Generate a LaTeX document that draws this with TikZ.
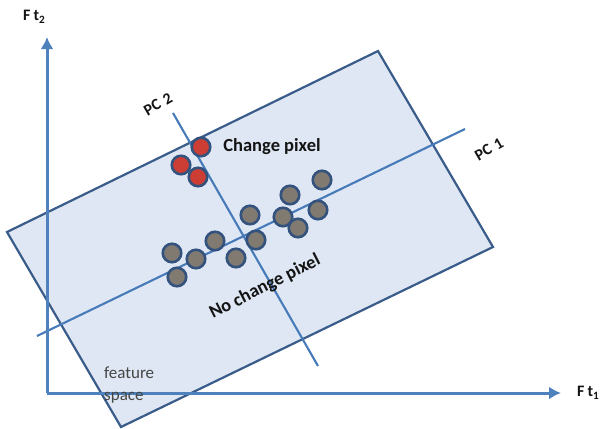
\documentclass[tikz,border=0pt]{standalone}
\usepackage{fontspec}
\setmainfont{Carlito}
\usetikzlibrary{arrows.meta}
\definecolor{rectfill}{RGB}{222,231,243}
\definecolor{rectline}{RGB}{58,92,138}
\definecolor{pcline}{RGB}{70,122,184}
\definecolor{axisblue}{RGB}{79,129,189}
\definecolor{dotred}{RGB}{204,62,52}
\definecolor{dotgray}{RGB}{128,122,112}
\definecolor{dotline}{RGB}{52,82,126}
\definecolor{txt}{RGB}{20,20,20}
\definecolor{graytxt}{RGB}{70,70,70}
\tikzset{
  rectstyle/.style={fill=rectfill, draw=rectline, line width=2.2pt, line join=miter},
  pcstyle/.style={draw=pcline, line width=2.1pt},
  axisstyle/.style={draw=axisblue, line width=3pt, -{Latex[length=12pt,width=13pt]}},
  dotstyle/.style={circle, minimum size=18.5pt, inner sep=0pt, draw=dotline, line width=2.6pt},
  reddot/.style={dotstyle, fill=dotred},
  graydot/.style={dotstyle, fill=dotgray},
  biglabel/.style={font=\fontsize{18.5}{22}\selectfont\bfseries, text=txt, inner sep=0pt},
  smalllabel/.style={font=\fontsize{16}{19}\selectfont\bfseries, text=txt, inner sep=0pt},
}
\begin{document}
\begin{tikzpicture}[x=1pt,y=-1pt]
\useasboundingbox (0,0) rectangle (606,429);
% feature-space rectangle
\coordinate (L) at (7,232);
\coordinate (T) at (378,51);
\coordinate (R) at (493,247);
\coordinate (B) at (121,427);
\draw[rectstyle] (L) -- (T) -- (R) -- (B) -- cycle;
% principal components
\coordinate (p1a) at (37,336);
\coordinate (p1b) at (465,129);
\coordinate (p2a) at (173,113);
\coordinate (p2b) at (318,366);
\draw[pcstyle] (p1a) -- (p1b);
\draw[pcstyle] (p2a) -- (p2b);
% axes
\coordinate (O) at (47,393);
\coordinate (ytop) at (47,37);
\coordinate (xend) at (561,393);
\draw[axisstyle] (O) -- (ytop);
\draw[axisstyle] (O) -- (xend);
% change pixels
\node[reddot] (r1) at (201,147) {};
\node[reddot] (r2) at (181,165) {};
\node[reddot] (r3) at (198,177) {};
% no-change pixels
\node[graydot] (g1) at (322,180) {};
\node[graydot] (g2) at (290,195) {};
\node[graydot] (g3) at (250,215) {};
\node[graydot] (g4) at (283,217) {};
\node[graydot] (g5) at (318,210) {};
\node[graydot] (g6) at (298,228) {};
\node[graydot] (g7) at (256,240) {};
\node[graydot] (g8) at (215,241) {};
\node[graydot] (g9) at (172,253) {};
\node[graydot] (g10) at (196,259) {};
\node[graydot] (g11) at (236,258) {};
\node[graydot] (g12) at (177,277) {};
% labels
\node[biglabel] (lchg) at (272,147) {Change pixel};
\node[biglabel, rotate=27] (lno) at (265,287) {No change pixel};
\node[smalllabel, rotate=30] (lpc2) at (158,104) {PC\hspace{1.5pt} 2};
\node[smalllabel, rotate=30] (lpc1) at (489,149) {PC\hspace{1.5pt} 1};
\node[smalllabel, anchor=west] (lft2) at (23,17) {F\hspace{3pt}t\textsubscript{2}};
\node[smalllabel, anchor=west] (lft1) at (577,393) {F\hspace{3pt}t\textsubscript{1}};
\node[font=\fontsize{17}{22}\selectfont, text=graytxt, align=left, anchor=north west, inner sep=0pt] (lfs) at (104,367) {feature\\space};
\end{tikzpicture}
\end{document}
